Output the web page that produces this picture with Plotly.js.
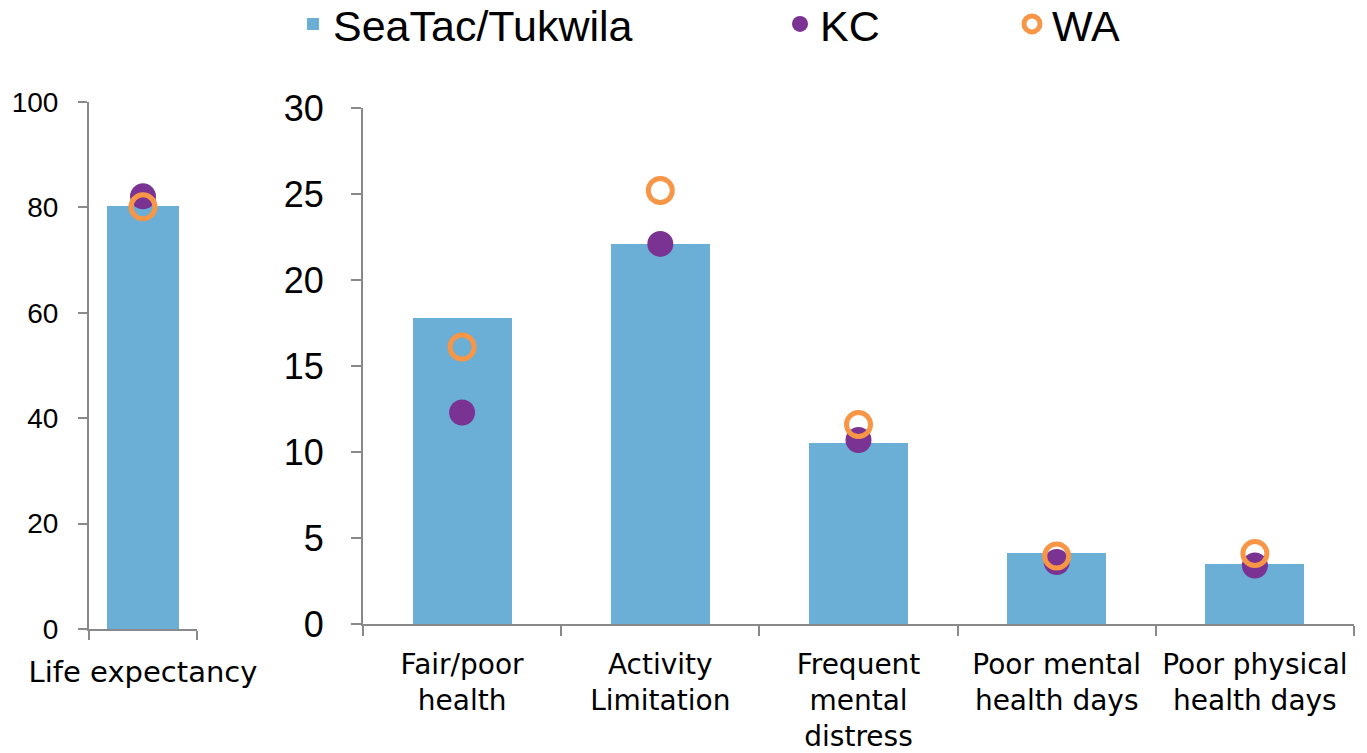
<!DOCTYPE html>
<html>
<head>
<meta charset="utf-8">
<script src="https://cdn.plot.ly/plotly-3.0.1.min.js"></script>
<style>html,body{margin:0;padding:0;background:#fff}#chart{width:1367px;height:753px}</style>
</head>
<body>
<div id="chart"></div>
<script>
// ---- data ----
const leftCategories = ["Life expectancy"];
const leftSeaTac = [80.2];
const leftKC = [82.1];
const leftWA = [80.1];

const rightCategories = ["Fair/poor<br>health", "Activity<br>Limitation", "Frequent<br>mental<br>distress", "Poor mental<br>health days", "Poor physical<br>health days"];
const rightSeaTac = [17.8, 22.1, 10.5, 4.1, 3.5];
const rightKC = [12.3, 22.1, 10.7, 3.6, 3.4];
const rightWA = [16.1, 25.2, 11.6, 3.95, 4.1];

const leftTicks = [0, 20, 40, 60, 80, 100];
const rightTicks = [0, 5, 10, 15, 20, 25, 30];

// ---- styles ----
const barColor = "#6BAED6";
const kcColor = "#7A3393";
const waColor = "#F79646";
const axisColor = "#898989";
const FONT = "Liberation Sans, Arial, sans-serif";
const LABELFONT = "DejaVu Sans, Verdana, sans-serif";

const kcMarker = {symbol: "circle", size: 26, color: kcColor};
const waMarker = {symbol: "circle-open", size: 24, color: waColor, line: {width: 5, color: waColor}};

const traces = [
  {type: "bar", x: leftCategories, y: leftSeaTac, xaxis: "x", yaxis: "y", width: 0.67,
   marker: {color: barColor}, name: "SeaTac/Tukwila", legend: "legend", hoverinfo: "y"},
  {type: "scatter", mode: "markers", x: leftCategories, y: leftKC, xaxis: "x", yaxis: "y",
   marker: kcMarker, name: "KC", showlegend: false},
  {type: "scatter", mode: "markers", x: leftCategories, y: leftWA, xaxis: "x", yaxis: "y",
   marker: waMarker, name: "WA", showlegend: false},
  {type: "bar", x: rightCategories, y: rightSeaTac, xaxis: "x2", yaxis: "y2", width: 0.5,
   marker: {color: barColor}, name: "SeaTac/Tukwila", showlegend: false},
  {type: "scatter", mode: "markers", x: rightCategories, y: rightKC, xaxis: "x2", yaxis: "y2",
   marker: kcMarker, name: "KC", legend: "legend2"},
  {type: "scatter", mode: "markers", x: rightCategories, y: rightWA, xaxis: "x2", yaxis: "y2",
   marker: waMarker, name: "WA", legend: "legend3"}
];

const axisBase = {
  showgrid: false, zeroline: false, showline: true, linecolor: axisColor, linewidth: 2,
  ticks: "outside", tickcolor: axisColor, tickwidth: 2, automargin: false,
  color: "#000"
};

const legendBase = {orientation: "h", yanchor: "middle", y: 1 - 24/753, xanchor: "left",
  font: {family: FONT, size: 43, color: "#000"}, bgcolor: "rgba(0,0,0,0)", itemclick: false,
  itemsizing: "trace"};

const layout = {
  width: 1367, height: 753,
  margin: {l: 0, r: 0, t: 0, b: 0, autoexpand: false},
  paper_bgcolor: "#fff", plot_bgcolor: "#fff",
  font: {family: FONT, color: "#000"},
  bargap: 0,
  xaxis: Object.assign({}, axisBase, {domain: [89/1367, 197/1367], anchor: "y",
    type: "category", range: [-0.5, 0.5], tickson: "boundaries", ticklen: 9, tickangle: 0,
    tickfont: {family: LABELFONT, size: 29}, ticklabelstandoff: 16}),
  yaxis: Object.assign({}, axisBase, {domain: [1 - 629/753, 1 - 102/753], anchor: "x",
    range: [0, 100], tickvals: leftTicks, ticklen: 9,
    tickfont: {family: FONT, size: 28}, ticklabelstandoff: 14}),
  xaxis2: Object.assign({}, axisBase, {domain: [363/1367, 1354/1367], anchor: "y2",
    type: "category", range: [-0.5, 4.5], tickson: "boundaries", ticklen: 10, tickangle: 0,
    tickfont: {family: LABELFONT, size: 28}, ticklabelstandoff: 14}),
  yaxis2: Object.assign({}, axisBase, {domain: [1 - 624/753, 1 - 108/753], anchor: "x2",
    range: [0, 30], tickvals: rightTicks, ticklen: 10,
    tickfont: {family: FONT, size: 36}, ticklabelstandoff: 20}),
  legend: Object.assign({}, legendBase, {x: 293/1367}),
  legend2: Object.assign({}, legendBase, {x: 780/1367}),
  legend3: Object.assign({}, legendBase, {x: 1012/1367}),
  showlegend: true
};

Plotly.newPlot("chart", traces, layout, {staticPlot: true, displayModeBar: false});
</script>
</body>
</html>
